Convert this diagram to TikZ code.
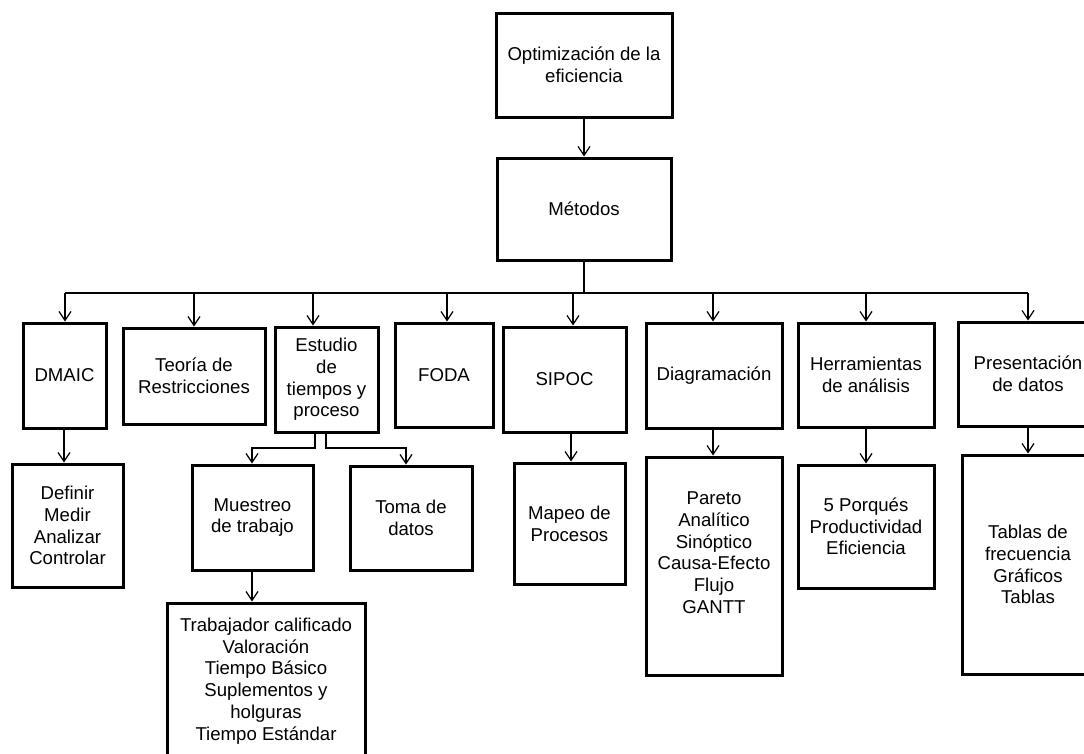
\documentclass[tikz,border=0pt]{standalone}
\usepackage{fontspec}
\setmainfont{Liberation Sans}
\usetikzlibrary{arrows.meta}
\begin{document}
\begin{tikzpicture}[x=1pt,y=-1pt,
  box/.style={draw, line width=3pt, align=center, inner sep=2pt,
    font=\fontsize{18.6}{21.7}\selectfont},
  link/.style={line width=1.2pt},
  arr/.style={link, -{Straight Barb[length=9pt,width=12pt]}}]
\clip (0,0) rectangle (1084,753);
\fill[white] (0,0) rectangle (1084,753);

% top of the hierarchy
\node[box, minimum width=176pt, minimum height=104pt] (opt) at (584,65) {Optimización de la\\eficiencia};
\node[box, minimum width=174pt, minimum height=102pt] (met) at (584,209) {Métodos};

% first level
\node[box, minimum width=83pt,  minimum height=105pt] (dmaic)   at (64.5,375.5) {DMAIC};
\node[box, minimum width=142pt, minimum height=96pt]  (teoria)  at (194,376)    {Teoría de\\Restricciones};
\node[box, minimum width=103pt, minimum height=105pt] (estudio) at (326.5,379.5){Estudio\\de\\tiempos y\\proceso};
\node[box, minimum width=98pt,  minimum height=104pt] (foda)    at (444,375)    {FODA};
\node[box, minimum width=123pt, minimum height=105pt] (sipoc)   at (564.5,379.5){SIPOC};
\node[box, minimum width=136pt, minimum height=105pt] (diag)    at (714,375.5)  {Diagramación};
\node[box, minimum width=136pt, minimum height=104pt] (herr)    at (866,375)    {Herramientas\\de análisis};
\node[box, minimum width=140pt, minimum height=104pt] (pres)    at (1028,374)   {Presentación\\de datos};

% second level
\node[box, minimum width=111pt, minimum height=123pt] (def)    at (67.5,525.5) {Definir\\Medir\\Analizar\\Controlar};
\node[box, minimum width=121pt, minimum height=105pt] (mues)   at (252.5,517.5){Muestreo\\de trabajo};
\node[box, minimum width=122pt, minimum height=104pt] (toma)   at (411,518)    {Toma de\\datos};
\node[box, minimum width=111pt, minimum height=121pt] (mapeo)  at (569.5,523.5){Mapeo de\\Procesos};
\node[box, minimum width=136pt, minimum height=218pt] (pareto) at (714,566)    {Pareto\\Analítico\\Sinóptico\\Causa-Efecto\\Flujo\\GANTT\\[5pt]\mbox{}};
\node[box, minimum width=136pt, minimum height=123pt] (porq)   at (866,526.5)  {5 Porqués\\Productividad\\Eficiencia};
\node[box, minimum width=132pt, minimum height=219pt] (tablas) at (1028,564.5) {Tablas de\\frecuencia\\Gráficos\\Tablas};

% third level
\node[box, minimum width=198pt, minimum height=156pt] (trab) at (266,681) {Trabajador calificado\\Valoración\\Tiempo Básico\\Suplementos y\\holguras\\Tiempo Estándar};

% trunk and distribution bus
\draw[arr] (opt.south) -- (met.north);
\coordinate (hub)  at (584,293);
\coordinate (busL) at (65,293);
\coordinate (busR) at (1028,293);
\draw[link] (met.south) -- (hub);
\draw[link] (busL) -- (busR);

\coordinate (inE) at (313,293);
\coordinate (inF) at (447,293);
\coordinate (inS) at (573,293);
\coordinate (inD) at (713,293);
\draw[arr] (busL) -- (busL |- dmaic.north);
\draw[arr] (teoria.north |- hub) -- (teoria.north);
\draw[arr] (inE) -- (inE |- estudio.north);
\draw[arr] (inF) -- (inF |- foda.north);
\draw[arr] (inS) -- (inS |- sipoc.north);
\draw[arr] (inD) -- (inD |- diag.north);
\draw[arr] (herr.north |- hub) -- (herr.north);
\draw[arr] (busR) -- (busR |- pres.north);

% branches below the first level
\coordinate (dm) at (64,0);
\draw[arr] (dm |- dmaic.south) -- (dm |- def.north);
\coordinate (ml) at (315,0);
\coordinate (mr) at (326,0);
\coordinate (mx) at (252,448);
\coordinate (tx) at (406,448);
\draw[arr] (ml |- estudio.south) |- (mx) -- (mx |- mues.north);
\draw[arr] (mr |- estudio.south) |- (tx) -- (tx |- toma.north);
\draw[arr] (mx |- mues.south) -- (mx |- trab.north);
\coordinate (sp) at (571,0);
\draw[arr] (sp |- sipoc.south) -- (sp |- mapeo.north);
\draw[arr] (inD |- diag.south) -- (inD |- pareto.north);
\draw[arr] (herr.south) -- (porq.north);
\draw[arr] (busR |- pres.south) -- (busR |- tablas.north);
\end{tikzpicture}
\end{document}
